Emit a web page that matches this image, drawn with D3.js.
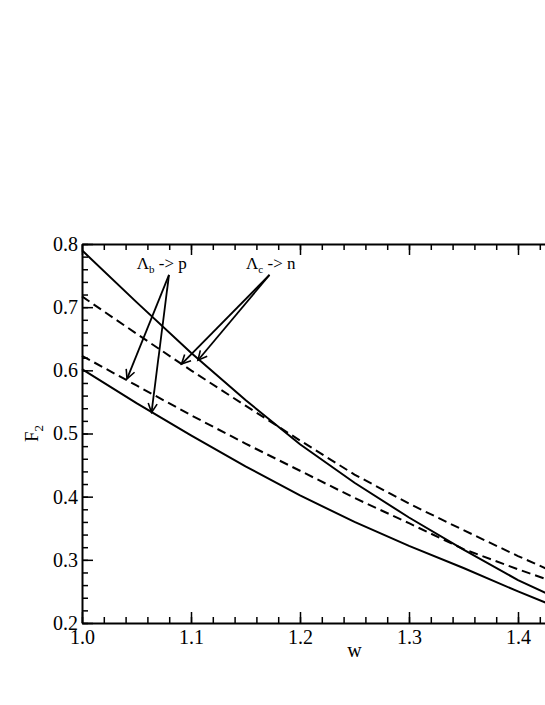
<!DOCTYPE html>
<html>
<head>
<meta charset="utf-8">
<script src="https://cdn.jsdelivr.net/npm/d3@7/dist/d3.min.js"></script>
<style>
  html, body { margin: 0; padding: 0; background: #fff; }
  svg { display: block; }
  text { font-family: "Liberation Serif", "Times New Roman", serif; fill: #000; }
</style>
</head>
<body>
<svg id="chart" width="545" height="705"></svg>
<script>
// ---- data ----
const wValues = [1.00, 1.05, 1.10, 1.15, 1.20, 1.25, 1.30, 1.35, 1.40, 1.43];
const solidUpper  = [0.790, 0.708, 0.628, 0.553, 0.483, 0.422, 0.367, 0.316, 0.268, 0.244];
const dashedUpper = [0.717, 0.658, 0.600, 0.544, 0.489, 0.435, 0.389, 0.347, 0.306, 0.283];
const dashedLower = [0.623, 0.576, 0.529, 0.484, 0.441, 0.398, 0.358, 0.317, 0.285, 0.267];
const solidLower  = [0.602, 0.548, 0.497, 0.448, 0.402, 0.360, 0.322, 0.287, 0.250, 0.229];

const xMajorTicks = [1.0, 1.1, 1.2, 1.3, 1.4];
const yMajorTicks = [0.2, 0.3, 0.4, 0.5, 0.6, 0.7, 0.8];
const xMinorTicks = d3.range(0, 26).map(i => +(1.0 + i * 0.02).toFixed(2));
const yMinorTicks = d3.range(0, 31).map(i => +(0.2 + i * 0.02).toFixed(2));

// annotations (data units)
const labelB = { w: 1.0502, f: 0.760, main: "Λ", sub: "b", rest: " -> p" };
const labelC = { w: 1.1505, f: 0.760, main: "Λ", sub: "c", rest: " -> n" };
const arrowsB = [
  { from: [1.0798, 0.751], to: [1.0413, 0.5864] },
  { from: [1.0798, 0.751], to: [1.0638, 0.5333] }
];
const arrowsC = [
  { from: [1.1720, 0.751], to: [1.0913, 0.610] },
  { from: [1.1720, 0.751], to: [1.1064, 0.616] }
];

// ---- scales ----
const svg = d3.select("#chart");
svg.append("rect").attr("width", 545).attr("height", 705).attr("fill", "#fff");

const x = d3.scaleLinear().domain([1.0, 1.5]).range([82, 627]);
const y = d3.scaleLinear().domain([0.2, 0.8]).range([623, 244]);

const fs = 20;
const fontFam = '"Liberation Serif", "Times New Roman", serif';
const fmt = d3.format(".1f");

// ---- axes ----
function styleAxis(g, w) {
  g.attr("font-family", fontFam).attr("font-size", fs);
  g.select(".domain").attr("stroke", "#000").attr("stroke-width", w);
  g.selectAll(".tick line").attr("stroke", "#000").attr("stroke-width", 1.5);
  g.selectAll("text").attr("font-size", fs).attr("font-family", fontFam);
}
function minor(g) {
  g.select(".domain").remove();
  g.selectAll(".tick line").attr("stroke", "#000").attr("stroke-width", 1.5);
}

// bottom
svg.append("g").attr("transform", `translate(0,${y(0.2)})`)
  .call(d3.axisBottom(x).tickValues(xMinorTicks).tickFormat("").tickSizeInner(-6).tickSizeOuter(0))
  .call(minor);
svg.append("g").attr("transform", `translate(0,${y(0.2)})`)
  .call(d3.axisBottom(x).tickValues(xMajorTicks).tickFormat(fmt).tickSizeInner(-11).tickSizeOuter(0).tickPadding(7))
  .call(g => styleAxis(g, 2));

// top
svg.append("g").attr("transform", `translate(0,${y(0.8)})`)
  .call(d3.axisTop(x).tickValues(xMinorTicks).tickFormat("").tickSizeInner(-6).tickSizeOuter(0))
  .call(minor);
svg.append("g").attr("transform", `translate(0,${y(0.8)})`)
  .call(d3.axisTop(x).tickValues(xMajorTicks).tickFormat("").tickSizeInner(-11).tickSizeOuter(0))
  .call(g => styleAxis(g, 2));

// left
svg.append("g").attr("transform", `translate(${x(1.0)},0)`)
  .call(d3.axisLeft(y).tickValues(yMinorTicks).tickFormat("").tickSizeInner(-6).tickSizeOuter(0))
  .call(minor);
svg.append("g").attr("transform", `translate(${x(1.0)},0)`)
  .call(d3.axisLeft(y).tickValues(yMajorTicks).tickFormat(fmt).tickSizeInner(-11).tickSizeOuter(0).tickPadding(4))
  .call(g => styleAxis(g, 2));

// axis titles
svg.append("text")
  .attr("x", (x(1.0) + x(1.5)) / 2).attr("y", 657)
  .attr("text-anchor", "middle").attr("font-size", 20).text("w");

const yt = svg.append("text")
  .attr("transform", `translate(38,${(y(0.2) + y(0.8)) / 2}) rotate(-90)`)
  .attr("text-anchor", "middle").attr("font-size", 19);
yt.append("tspan").text("F");
yt.append("tspan").attr("font-size", 13).attr("dy", 5).text("2");

// ---- curves ----
const line = d3.line().x(d => x(d[0])).y(d => y(d[1]));
const series = [
  { vals: solidUpper, dash: null },
  { vals: dashedUpper, dash: "9,5" },
  { vals: dashedLower, dash: "9,5" },
  { vals: solidLower, dash: null }
];
series.forEach(s => {
  svg.append("path")
    .datum(wValues.map((w, i) => [w, s.vals[i]]))
    .attr("d", line)
    .attr("fill", "none").attr("stroke", "#000").attr("stroke-width", 2)
    .attr("stroke-dasharray", s.dash);
});

// ---- annotations ----
svg.append("defs").append("marker")
  .attr("id", "arrow").attr("viewBox", "-10 -6 12 12")
  .attr("refX", 0).attr("refY", 0)
  .attr("markerWidth", 12).attr("markerHeight", 12)
  .attr("markerUnits", "userSpaceOnUse")
  .attr("orient", "auto")
  .append("path").attr("d", "M-9,-4.5 L0,0 L-9,4.5")
  .attr("fill", "none").attr("stroke", "#000").attr("stroke-width", 1.6);

[...arrowsB, ...arrowsC].forEach(a => {
  svg.append("line")
    .attr("x1", x(a.from[0])).attr("y1", y(a.from[1]))
    .attr("x2", x(a.to[0])).attr("y2", y(a.to[1]))
    .attr("stroke", "#000").attr("stroke-width", 1.8)
    .attr("marker-end", "url(#arrow)");
});

[labelB, labelC].forEach(l => {
  const t = svg.append("text").attr("x", x(l.w)).attr("y", y(l.f)).attr("font-size", 17);
  t.append("tspan").text(l.main);
  t.append("tspan").attr("font-size", 11).attr("dy", 4).text(l.sub);
  t.append("tspan").attr("dy", -4).text(l.rest);
});
</script>
</body>
</html>
